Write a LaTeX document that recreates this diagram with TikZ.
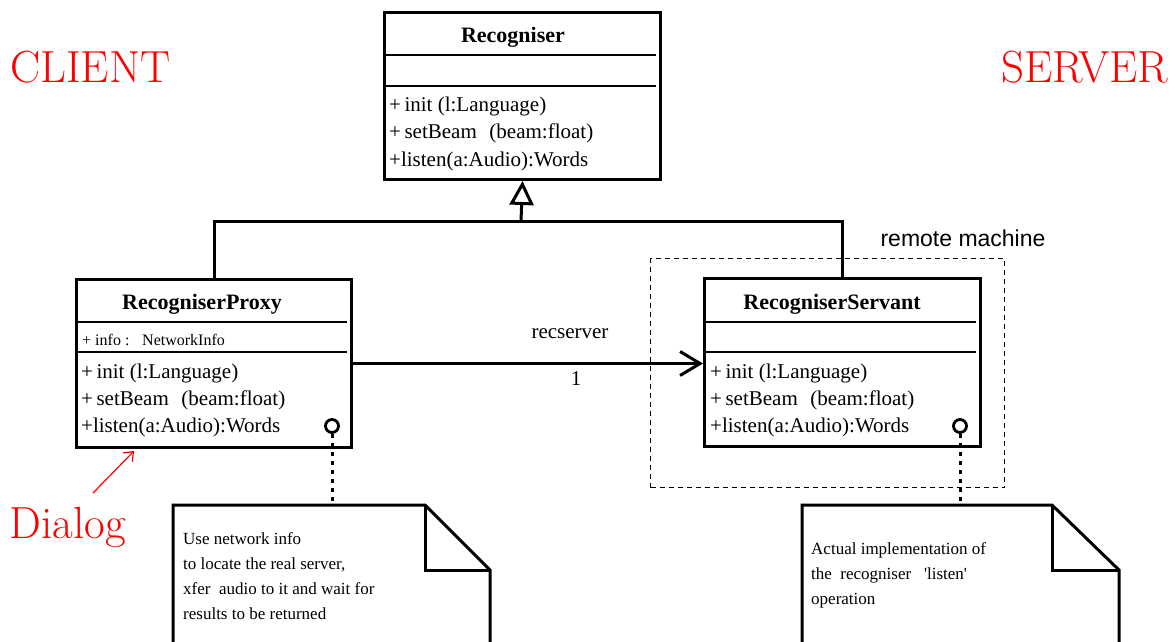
\documentclass[tikz,border=0pt]{standalone}
\usepackage{fontspec}
\newfontfamily\tnr{Liberation Serif}
\newfontfamily\arial{Liberation Sans}
\usetikzlibrary{arrows.meta}
\begin{document}
\begin{tikzpicture}[x=1pt,y=-1pt,
  classbox/.style={draw, line width=3pt, rectangle, inner sep=0pt, anchor=north west},
  sepline/.style={line width=1.4pt},
  ctitle/.style={font=\tnr\bfseries\fontsize{22}{26}\selectfont, inner sep=0pt},
  member/.style={font=\tnr\fontsize{21}{25}\selectfont, inner sep=0pt, anchor=west},
  attr/.style={font=\tnr\fontsize{16}{20}\selectfont, inner sep=0pt, anchor=west},
  link/.style={line width=3pt},
  navcirc/.style={draw, circle, line width=2.8pt, minimum size=13pt, inner sep=0pt},
  notelink/.style={line width=3pt, dash pattern=on 4pt off 5pt},
  notebox/.style={line width=3pt, line join=miter},
  notetext/.style={font=\tnr\fontsize{17}{25}\selectfont, inner sep=0pt, align=left, anchor=north west},
  bigred/.style={font=\fontsize{45}{52}\selectfont, text=red, inner sep=0pt},
]
\useasboundingbox (0,0) rectangle (1175,641);

% ---------- Recogniser ----------
\node[classbox, minimum width=276pt, minimum height=167pt] (rec) at (383,11) {};
\node[ctitle] (rectitle) at (513,37) {Recogniser};
\draw[sepline] (386,55) -- (656,55);
\draw[sepline] (386,86) -- (656,86);
\node[member] (recm1) at (389,106) {+\,init (l:Language)};
\node[member] (recm2) at (389,133) {+\,setBeam\hspace{0.6em}(beam:float)};
\node[member] (recm3) at (389,161) {+listen(a:Audio):Words};

% ---------- RecogniserProxy ----------
\node[classbox, minimum width=275pt, minimum height=168pt] (proxy) at (75,278) {};
\node[ctitle] (proxytitle) at (202,304) {RecogniserProxy};
\draw[sepline] (78,322) -- (347,322);
\node[attr] (proxyattr) at (82,340) {+ info :\hspace{0.8em}NetworkInfo};
\draw[sepline] (78,352) -- (347,352);
\node[member] (proxym1) at (81,373) {+\,init (l:Language)};
\node[member] (proxym2) at (81,400) {+\,setBeam\hspace{0.6em}(beam:float)};
\node[member] (proxym3) at (81,427) {+listen(a:Audio):Words};
\node[navcirc] (pcirc) at (332,426) {};

% ---------- RecogniserServant ----------
\node[draw, dash pattern=on 5pt off 4pt, line width=1.2pt, rectangle, inner sep=0pt,
      anchor=north west, minimum width=354pt, minimum height=229pt] (remote) at (650,258) {};
\node[font=\arial\fontsize{23}{27}\selectfont, inner sep=0pt] (remotelbl) at (963,238) {remote machine};
\node[classbox, fill=white, minimum width=276pt, minimum height=168pt] (serv) at (703,277) {};
\node[ctitle] (servtitle) at (832,304) {RecogniserServant};
\draw[sepline] (706,322) -- (976,322);
\draw[sepline] (706,352) -- (976,352);
\node[member] (servm1) at (710,373) {+\,init (l:Language)};
\node[member] (servm2) at (710,400) {+\,setBeam\hspace{0.6em}(beam:float)};
\node[member] (servm3) at (710,427) {+listen(a:Audio):Words};
\node[navcirc] (scirc) at (960,426) {};

% ---------- generalisation ----------
\coordinate (joint) at (521,221);
\draw[link] (proxy.north) |- (joint) -| (serv.north);
\draw[link, -{Triangle[open, length=24pt, width=24pt, line width=3pt]}] (joint) -- (rec.south);

% ---------- association ----------
\draw[link, -{Straight Barb[length=20pt, width=24pt, line width=3pt]}]
  (proxy.east) -- (proxy.east -| serv.west);
\node[font=\tnr\fontsize{21}{25}\selectfont, inner sep=0pt] (rolename) at (570,334) {recserver};
\node[font=\tnr\fontsize{21}{25}\selectfont, inner sep=0pt] (mult) at (576,379) {1};

% ---------- notes ----------
\node[inner sep=0pt, minimum width=317pt, minimum height=138pt, anchor=north west] (note1) at (173,505) {};
\draw[notebox] (173,643) -- (173,505) -- (425,505) -- (490,570) -- (490,643);
\draw[notebox] (425,505) -- (425,570) -- (490,570);
\node[notetext] (note1txt) at (183,532) {Use network info\\to locate the real server,\\xfer\ \ audio to it and wait for\\results to be returned};
\draw[notelink] (pcirc.south) -- (pcirc.south |- note1.north);

\node[inner sep=0pt, minimum width=317pt, minimum height=138pt, anchor=north west] (note2) at (802,505) {};
\draw[notebox] (802,643) -- (802,505) -- (1052,505) -- (1119,570) -- (1119,643);
\draw[notebox] (1052,505) -- (1052,570) -- (1119,570);
\node[notetext] (note2txt) at (811,542) {Actual implementation of\\the\ \ recogniser\ \ \ \textquotesingle listen\textquotesingle\\operation};
\draw[notelink] (scirc.south) -- (scirc.south |- note2.north);

% ---------- side labels ----------
\node[bigred, anchor=west] (client) at (10,67) {CLIENT};
\node[bigred, anchor=west] (server) at (1001,67) {SERVER};
\node[bigred] (dialog) at (68,527) {Dialog};
\coordinate (dlgfrom) at (93,493);
\coordinate (dlgto) at (134,451);
\draw[red, line width=1.2pt, -{Straight Barb[length=8pt, width=13pt, line width=1.2pt]}] (dlgfrom) -- (dlgto);
\end{tikzpicture}
\end{document}
